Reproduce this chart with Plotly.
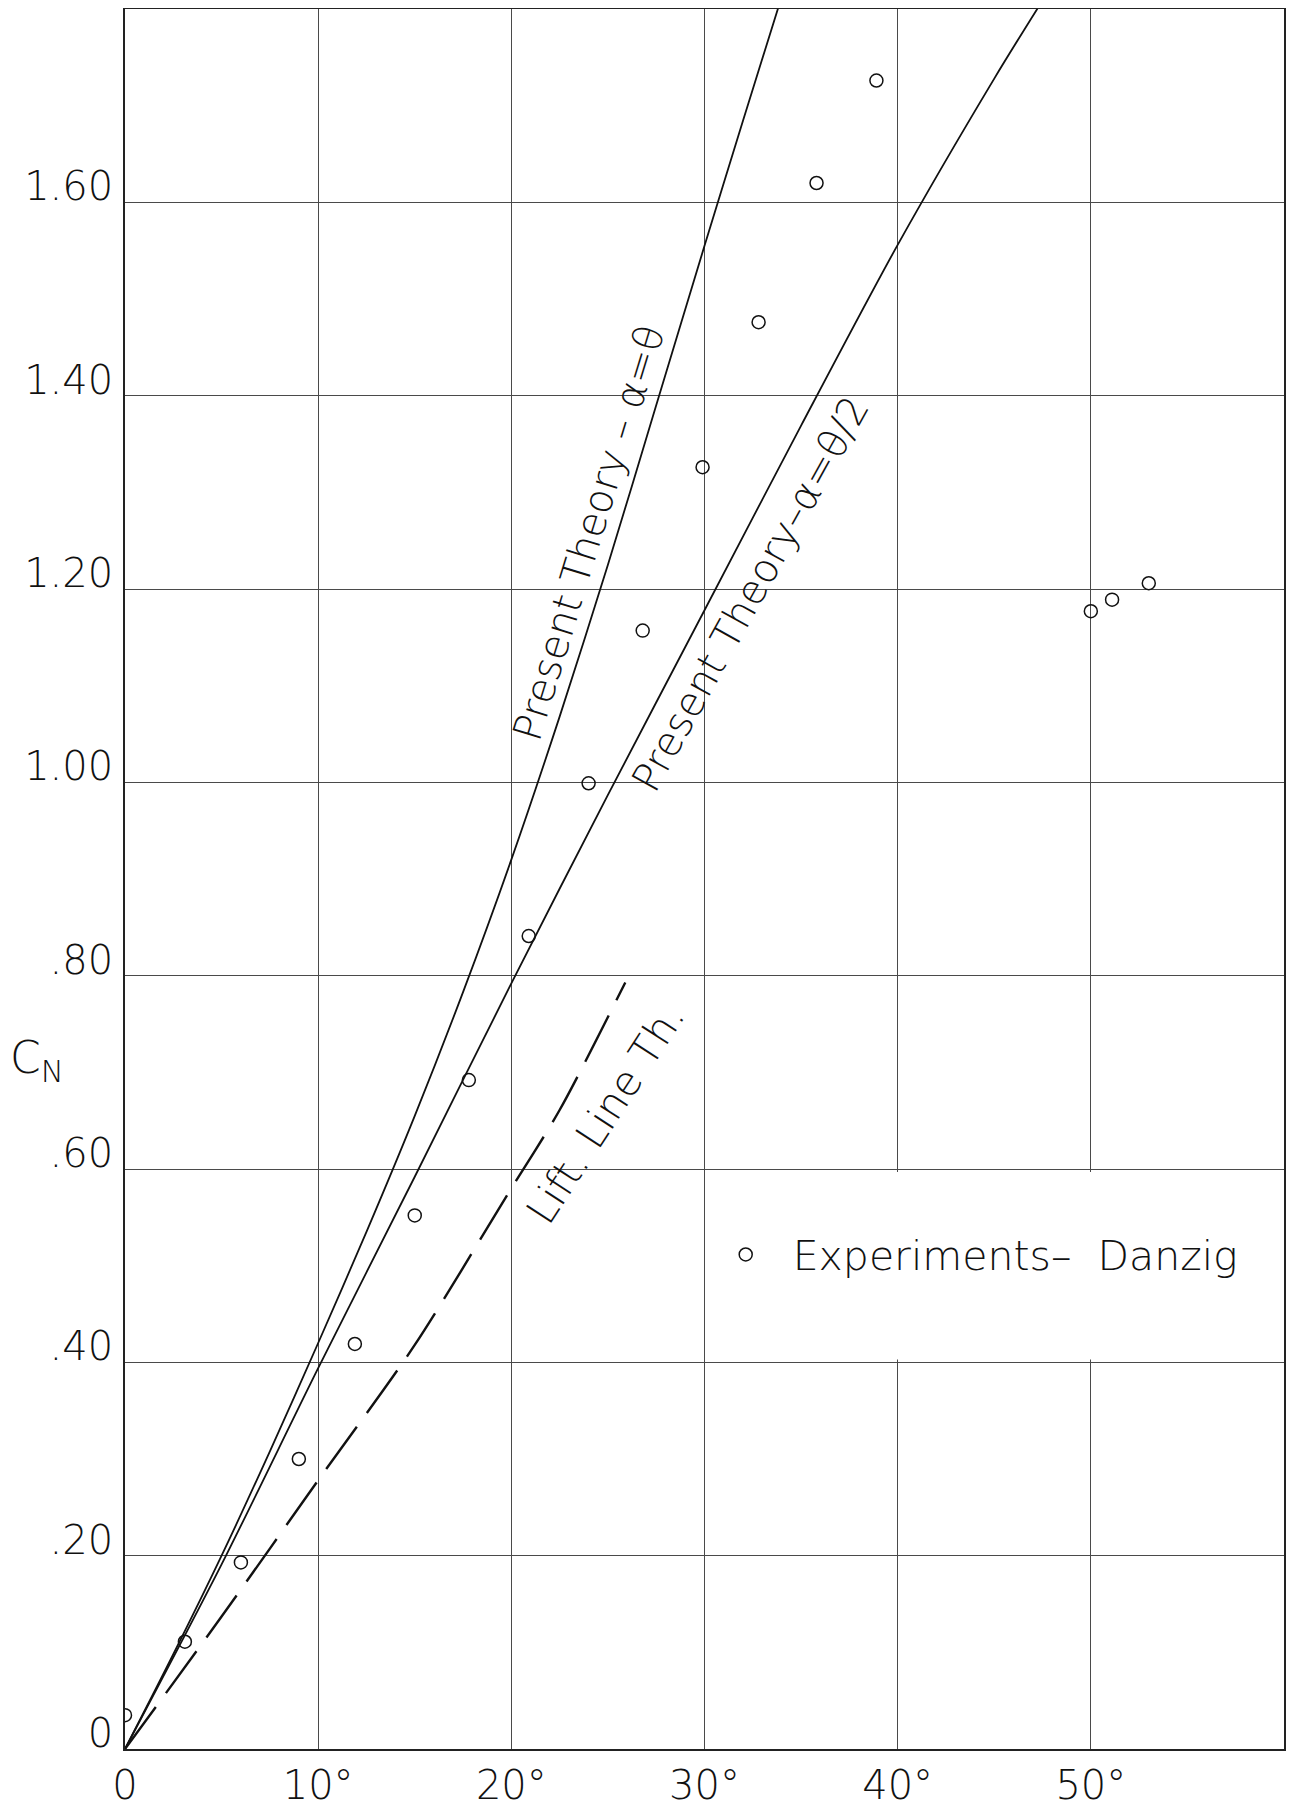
import plotly.graph_objects as go

# ---------------- data ----------------
# Experiments - Danzig (open circles)
exp_theta = [0, 3.1, 6.0, 9.0, 11.9, 15.0, 17.8, 20.9, 24.0, 26.8, 29.9, 32.8, 35.8, 38.9, 50.0, 51.1, 53.0]
exp_cn = [0.035, 0.111, 0.193, 0.300, 0.419, 0.552, 0.692, 0.841, 0.999, 1.157, 1.326, 1.476, 1.620, 1.726,
          1.177, 1.189, 1.206]

# Present theory, alpha = theta
th1_theta = [0, 2.5, 5, 7.5, 10, 12.5, 15, 17.5, 20, 22.5, 25, 27.5, 30, 32, 34]
th1_cn = [0, 0.098, 0.200, 0.308, 0.420, 0.535, 0.655, 0.783, 0.920, 1.068, 1.225, 1.390, 1.555, 1.685, 1.813]

# Present theory, alpha = theta/2
th2_theta = [0, 5, 10, 15, 20, 25, 30, 35, 40, 45, 47.6]
th2_cn = [0, 0.191, 0.394, 0.592, 0.792, 0.987, 1.178, 1.369, 1.556, 1.728, 1.812]

# Lifting line theory (dashed)
ll_theta = [0, 5, 10, 15, 20, 22.5, 25.9]
ll_cn = [0, 0.137, 0.278, 0.418, 0.580, 0.661, 0.793]

# axis ticks
x_tickvals = [0, 10, 20, 30, 40, 50]
x_ticktext = ["0", "10°", "20°", "30°", "40°", "50°"]
y_tickvals = [0, 0.2, 0.4, 0.6, 0.8, 1.0, 1.2, 1.4, 1.6]
y_ticktext = ["0", ".20", ".40", ".60", ".80", "1.00", "1.20", "1.40", "1.60"]

FONT = "DejaVu Sans"
INK = "#111111"

fig = go.Figure()

fig.add_trace(go.Scatter(x=th1_theta, y=th1_cn, mode="lines",
                         line=dict(color=INK, width=1.8, shape="spline", smoothing=0.8),
                         showlegend=False))
fig.add_trace(go.Scatter(x=th2_theta, y=th2_cn, mode="lines",
                         line=dict(color=INK, width=1.8, shape="spline", smoothing=0.8),
                         showlegend=False))
fig.add_trace(go.Scatter(x=ll_theta, y=ll_cn, mode="lines",
                         line=dict(color=INK, width=2.4, dash="52px,17px", shape="spline", smoothing=0.8),
                         showlegend=False))
fig.add_trace(go.Scatter(x=exp_theta, y=exp_cn, mode="markers", name="Experiments–  Danzig",
                         marker=dict(symbol="circle-open", size=13, color=INK, line=dict(width=1.5, color=INK)),
                         showlegend=True))

# white patch behind the legend (hides the 40° and 50° grid lines there)
fig.add_shape(type="rect", xref="x", yref="y", x0=30.15, x1=59.85, y0=0.403, y1=0.597,
              fillcolor="white", line=dict(width=0), layer="above")

ann_font = dict(family=FONT, size=40, color=INK, weight=300)
fig.add_annotation(x=24.0, y=1.258, xref="x", yref="y", text="Present Theory – α=θ",
                   textangle=-73, showarrow=False, font=ann_font)
fig.add_annotation(x=32.35, y=1.195, xref="x", yref="y", text="Present Theory–α=θ/2",
                   textangle=-61, showarrow=False, font=ann_font)
fig.add_annotation(x=24.9, y=0.658, xref="x", yref="y", text="Lift. Line Th.",
                   textangle=-57, showarrow=False, font=dict(family=FONT, size=41, color=INK, weight=300))
fig.add_annotation(x=-0.101, y=0.712, xref="paper", yref="y", xanchor="left", text="C<sub>N</sub>",
                   showarrow=False, font=dict(family=FONT, size=44, color=INK, weight=300))

axis_common = dict(showgrid=True, gridcolor="#4a4a4a", gridwidth=1, zeroline=False, automargin=False,
                   showline=True, linecolor="#222222", linewidth=1.6, mirror=True, ticks="",
                   tickfont=dict(family=FONT, size=40, color=INK, weight=300))

# the page adds an 8 px body margin, so the figure is sized/margined to compensate
fig.update_layout(
    width=1290, height=1801,
    margin=dict(l=117, r=14, t=1, b=60),
    paper_bgcolor="white", plot_bgcolor="white",
    xaxis=dict(range=[0, 60], tickmode="array", tickvals=x_tickvals, ticktext=x_ticktext,
               ticklabelstandoff=0, **axis_common),
    yaxis=dict(range=[0, 1.8], tickmode="array", tickvals=y_tickvals, ticktext=y_ticktext,
               ticklabelstandoff=2, ticklabelshift=-16, **axis_common),
    legend=dict(x=0.495, y=0.284, xanchor="left", yanchor="middle", bgcolor="rgba(0,0,0,0)",
                borderwidth=0, itemwidth=84, font=dict(family=FONT, size=41, color=INK, weight=300)),
    font=dict(family=FONT, color=INK),
)

fig.write_html("out.html")
